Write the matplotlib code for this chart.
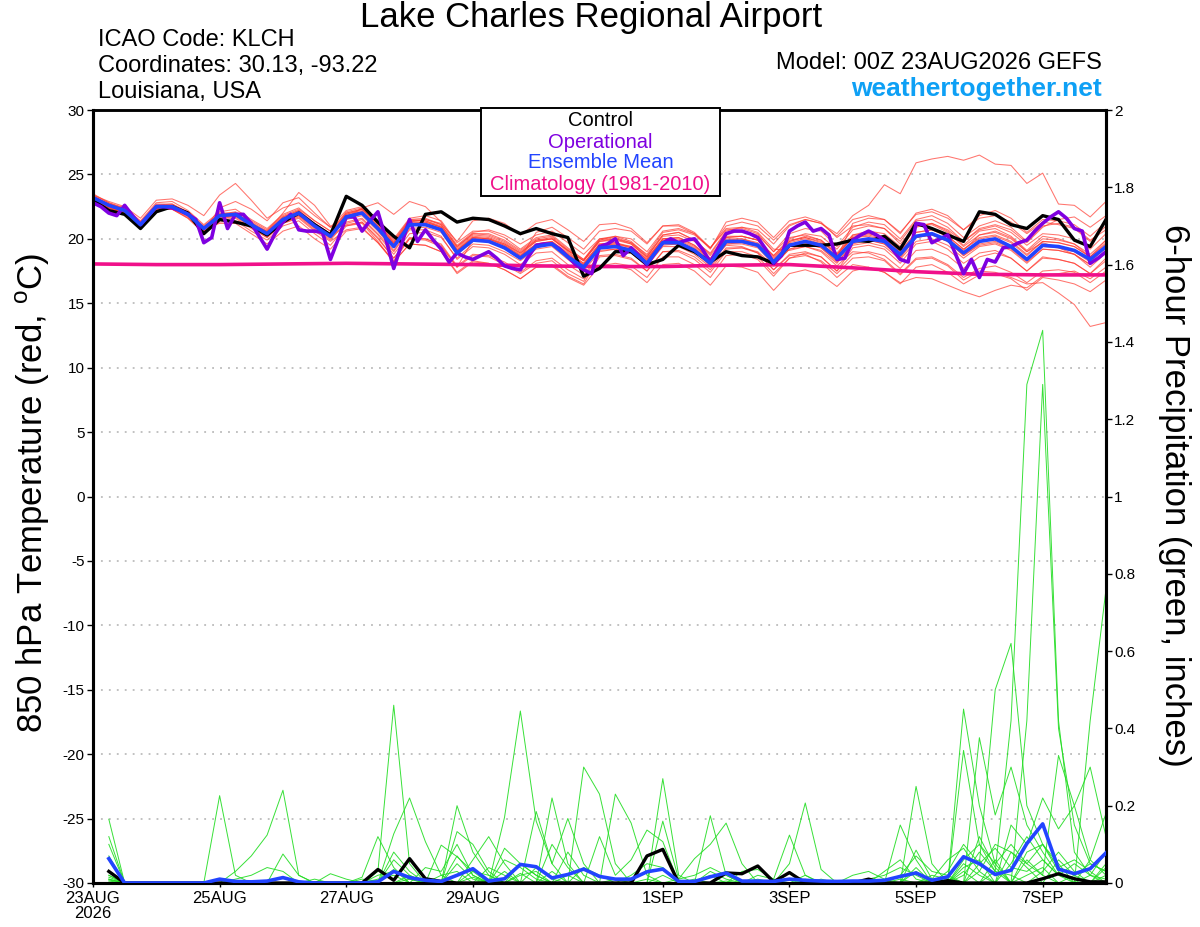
import numpy as np
import matplotlib
matplotlib.use("Agg")
import matplotlib.pyplot as plt
from matplotlib.patches import Rectangle

plt.rcParams['font.family'] = ['Liberation Sans', 'DejaVu Sans']

# ---------------- DATA ----------------
step_hours = 6
op_step_hours = 3

tick_hours = [0, 48, 96, 144, 216, 264, 312, 360]
tick_labels = ["23AUG\n2026", "25AUG", "27AUG", "29AUG", "1SEP", "3SEP", "5SEP", "7SEP"]

ens_mean_temp = [
    23.2, 22.6, 22.2, 21.1, 22.5, 22.5, 21.9, 20.8,
    21.8, 21.9, 21.1, 20.4, 21.5, 22.0, 21.0, 20.2,
    21.7, 22.0, 20.8, 19.4, 21.1, 21.1, 20.7, 18.9,
    19.9, 19.8, 19.3, 18.5, 19.4, 19.6, 18.6, 17.8,
    19.3, 19.4, 19.1, 18.1, 19.7, 19.7, 19.1, 18.1,
    19.8, 19.8, 19.5, 18.2, 19.5, 19.8, 19.5, 18.5,
    19.8, 20.0, 19.8, 18.8, 20.2, 20.4, 19.9, 18.9,
    19.8, 20.0, 19.4, 18.4, 19.5, 19.4, 19.1, 18.4,
    19.4]

control_temp = [
    23.0, 22.2, 21.9, 20.8, 22.1, 22.5, 22.0, 20.4,
    21.5, 21.3, 21.0, 20.3, 21.3, 22.0, 21.1, 20.3,
    23.3, 22.6, 21.3, 20.2, 19.3, 21.9, 22.1, 21.3,
    21.6, 21.5, 21.0, 20.4, 20.8, 20.4, 20.1, 17.1,
    17.7, 19.0, 19.0, 18.0, 18.4, 19.5, 19.0, 18.2,
    19.0, 18.7, 18.6, 18.1, 19.5, 19.5, 19.5, 19.6,
    19.9, 19.8, 20.2, 19.2, 21.2, 20.8, 20.3, 19.8,
    22.1, 21.9, 21.1, 20.8, 21.8, 21.5, 19.9, 19.4,
    21.5]

operational_temp = [
    22.8, 22.5, 22.0, 21.8, 22.6, 21.8, 21.1, 21.8,
    22.5, 22.5, 22.4, 22.2, 21.9, 21.5, 19.7, 20.1,
    22.8, 20.8, 21.9, 21.9, 21.2, 20.2, 19.2, 20.4,
    21.3, 21.9, 20.7, 20.6, 20.6, 20.5, 18.4, 20.0,
    21.7, 21.7, 20.6, 21.4, 22.1, 20.0, 17.7, 19.6,
    21.5, 19.8, 20.7, 19.9, 19.2, 18.2, 18.9, 18.6,
    18.4, 18.7, 19.0, 18.5, 17.9, 17.7, 17.6, 18.6,
    19.5, 19.6, 19.6, 19.2, 18.6, 18.0, 17.6, 17.3,
    19.4, 19.6, 20.0, 18.7, 19.3, 18.7, 18.0, 18.9,
    19.7, 20.0, 19.7, 19.9, 20.0, 19.2, 18.2, 19.3,
    20.4, 20.6, 20.6, 20.4, 20.1, 19.2, 18.1, 18.7,
    20.6, 21.0, 21.3, 20.6, 20.8, 20.3, 18.4, 18.5,
    19.9, 20.3, 20.6, 20.3, 19.9, 19.2, 18.4, 18.2,
    21.2, 21.1, 19.7, 20.0, 20.3, 18.8, 17.3, 18.4,
    17.0, 18.4, 18.2, 19.3, 19.4, 19.7, 19.9, 20.6,
    21.2, 21.7, 22.1, 21.6, 20.8, 20.6, 18.1, 18.5,
    19.0]

climatology_days = [0, 24, 48, 72, 96, 120, 144, 168, 192, 216, 240, 264, 288, 312, 336, 360, 384]
climatology_temp = [18.05, 18.0, 18.0, 18.05, 18.1, 18.05, 18.0, 17.9, 17.85,
                    17.85, 17.95, 18.0, 17.75, 17.45, 17.25, 17.2, 17.2]

member_temps = [
    [23.5,22.8,22.4,21.4,22.8,22.9,22.2,21.1,22.1,22.3,21.5,20.8,21.9,22.4,21.4,20.6,
     22.0,22.3,21.2,19.8,21.5,21.6,21.1,19.4,20.4,20.3,19.8,19.0,19.9,20.1,19.1,18.3,
     19.8,19.9,19.6,18.6,20.2,20.3,19.8,18.9,20.6,20.9,20.7,19.6,21.0,21.5,21.2,20.4,
     21.8,22.6,24.2,23.5,25.9,26.2,26.4,26.1,26.5,25.8,25.7,24.3,25.1,22.7,22.6,21.7,22.9],
    [23.0,22.4,21.9,20.9,22.3,22.3,21.6,20.5,21.5,21.6,20.8,20.1,21.2,21.7,20.7,19.9,
     21.3,21.6,20.4,19.0,20.7,20.7,20.2,18.4,19.4,19.3,18.8,18.0,18.9,19.0,18.0,17.2,
     18.7,18.8,18.5,17.5,19.0,19.0,18.4,17.4,19.0,19.0,18.6,17.3,18.5,18.7,18.3,17.3,
     18.5,18.6,18.3,17.2,18.4,18.5,17.9,16.8,17.5,17.4,17.0,16.5,16.6,15.8,14.9,13.2,13.5],
    [23.3,22.7,22.3,21.2,22.6,22.6,22.0,20.9,21.9,22.0,21.2,20.5,21.7,22.2,21.2,20.4,
     21.9,22.2,21.0,19.6,21.3,21.3,20.9,19.1,20.1,20.0,19.5,18.7,19.6,19.8,18.8,18.0,
     19.5,19.6,19.3,18.3,19.9,19.9,19.3,18.3,19.5,19.4,18.9,17.6,18.7,18.8,18.2,17.0,
     18.0,17.8,17.4,16.6,17.0,16.9,16.4,15.9,15.5,16.0,16.4,16.2,17.1,17.3,17.5,16.9,17.8],
    [23.4,22.9,22.5,21.6,23.0,23.1,22.6,21.8,23.4,24.3,23.0,21.6,22.4,22.8,21.8,20.9,
     22.2,22.5,21.4,20.0,21.6,21.8,21.4,19.7,20.6,20.6,20.1,19.2,20.1,20.3,19.3,18.4,
     20.0,20.2,19.8,18.7,20.3,20.5,19.9,18.8,20.5,20.6,20.3,19.0,20.4,20.8,20.6,19.4,
     20.9,21.3,21.1,20.0,21.5,21.8,21.2,20.1,21.0,21.4,20.9,19.8,21.0,21.2,20.9,19.9,20.7],
    [23.1,22.5,22.1,21.0,22.4,22.3,21.7,20.6,21.6,21.8,21.1,20.6,22.0,23.6,22.6,21.0,
     21.0,21.2,19.8,18.2,19.6,19.5,19.0,17.4,18.3,18.1,17.6,16.9,17.8,17.9,17.0,16.4,
     17.9,18.1,17.9,17.0,18.6,18.6,18.0,17.0,18.7,18.8,18.4,17.1,18.5,18.9,18.6,17.5,
     19.3,19.5,19.2,18.1,19.6,19.8,19.2,18.1,18.9,19.1,18.5,17.5,18.6,18.4,18.1,17.3,18.5],
    [22.9,22.4,22.0,21.0,22.3,22.4,21.8,20.7,21.7,21.8,21.0,20.3,21.3,21.8,20.8,20.0,
     21.6,22.4,22.8,21.9,22.9,22.5,21.3,19.5,20.5,20.7,20.3,19.6,20.3,20.6,19.7,18.8,
     20.0,20.1,19.7,18.6,20.3,20.5,19.9,18.7,20.2,20.2,19.9,18.6,19.8,20.1,19.7,18.6,
     20.2,20.4,20.2,19.2,20.9,21.2,20.6,19.5,20.6,20.8,20.2,19.1,20.2,20.0,19.6,18.6,19.9],
    [23.2,22.6,22.3,21.2,22.5,22.4,21.8,20.6,22.4,22.9,22.3,21.4,22.8,23.2,22.0,20.9,
     21.2,21.5,20.3,18.8,20.4,20.5,20.1,18.5,19.6,19.5,19.0,18.3,19.2,19.4,18.4,17.5,
     19.0,19.2,18.9,17.9,19.5,19.6,19.0,17.9,19.6,19.7,19.4,18.2,19.4,19.8,19.6,18.7,
     20.3,20.6,20.4,19.4,21.0,21.2,20.7,19.8,20.7,21.0,20.5,19.5,20.4,20.3,20.0,19.2,20.4],
    [23.0,22.4,22.0,20.9,22.3,22.3,21.6,20.4,21.3,21.4,20.6,19.9,21.0,21.4,20.4,19.5,
     21.0,21.3,20.1,18.5,20.0,20.0,19.6,17.9,18.8,18.7,18.2,17.4,18.3,18.5,17.6,16.9,
     17.8,17.9,17.6,16.6,18.0,18.1,17.5,16.4,17.9,17.8,17.4,16.0,17.3,17.6,17.2,16.3,
     17.5,17.8,17.4,16.5,17.8,18.0,17.4,16.5,17.2,17.3,16.9,16.0,17.0,16.8,16.5,15.9,16.8],
    [23.3,22.7,22.2,21.1,22.6,22.7,22.1,21.0,22.0,22.0,21.2,20.5,21.6,22.1,21.1,20.3,
     21.8,22.1,20.9,19.5,21.2,21.3,20.9,19.2,20.2,20.1,19.6,18.9,19.8,20.0,19.1,18.3,
     19.8,20.0,19.7,18.8,20.5,20.7,20.3,19.3,21.0,21.3,21.0,19.9,21.1,21.5,21.2,20.2,
     21.5,21.8,21.5,20.5,21.9,22.1,21.6,20.7,21.6,21.8,21.3,20.4,21.3,21.1,20.8,19.8,21.0],
    [23.1,22.5,22.1,21.1,22.4,22.5,21.9,20.8,21.8,21.9,21.2,20.5,21.6,22.1,21.1,20.3,
     21.8,22.1,21.0,19.6,21.3,21.5,21.2,19.8,21.4,21.6,21.2,20.3,21.2,21.5,20.7,19.8,
     21.1,21.2,20.8,19.7,21.0,21.0,20.4,19.3,20.7,20.8,20.4,19.0,20.1,20.3,19.9,18.8,
     20.1,20.2,19.9,18.8,20.1,20.3,19.8,18.7,19.5,19.7,19.2,18.2,19.2,19.1,18.8,18.0,19.1],
    [23.2,22.6,22.2,21.1,22.5,22.5,21.9,20.8,21.2,21.2,20.4,19.6,20.6,21.0,20.0,19.2,
     20.6,20.8,19.7,18.3,20.0,19.9,19.4,17.8,19.9,19.8,19.3,18.5,19.4,19.6,18.6,17.9,
     19.3,19.4,19.1,18.0,19.6,19.6,19.0,18.0,19.6,19.6,19.3,18.0,19.2,19.4,19.0,17.9,
     19.0,18.9,18.4,17.3,18.5,18.6,18.0,17.0,17.7,17.9,17.4,16.6,17.5,17.6,17.4,16.6,17.5],
    [23.4,22.8,22.3,21.3,22.7,22.7,22.0,20.9,21.9,22.1,21.4,20.7,21.8,22.3,21.4,20.6,
     22.1,22.4,21.3,19.9,21.5,21.4,20.9,19.1,20.0,19.9,19.4,18.6,19.5,19.7,18.8,18.0,
     19.5,19.6,19.4,18.4,20.0,20.1,19.5,18.5,20.1,20.2,19.9,18.7,20.0,20.4,20.2,19.2,
     20.7,21.0,20.8,19.8,21.4,21.5,20.9,19.8,20.8,21.1,20.7,19.7,20.9,21.5,21.7,20.9,21.8],
    [23.0,22.5,22.1,21.0,22.4,22.4,21.8,20.7,21.7,21.8,21.0,20.2,21.3,21.8,20.9,20.1,
     21.5,21.8,20.6,19.1,20.8,20.9,20.5,18.8,19.8,19.8,19.3,18.5,20.5,20.9,20.1,19.2,
     20.6,20.8,20.6,19.6,21.0,21.1,20.5,19.3,20.8,20.9,20.5,19.2,19.1,19.4,19.1,18.1,
     19.6,19.9,19.6,18.5,20.1,20.4,20.0,19.1,20.3,20.6,20.1,19.0,19.7,19.3,18.8,17.8,18.9],
    [23.3,22.7,22.4,21.3,22.6,22.6,22.0,20.8,21.8,21.9,21.1,20.4,21.5,22.0,21.0,20.2,
     21.9,22.3,21.2,19.7,21.4,21.4,21.0,19.3,20.3,20.2,19.7,18.9,19.9,20.0,19.0,18.1,
     19.6,19.7,19.3,18.2,19.7,19.7,19.2,18.2,19.8,19.9,19.6,18.4,19.7,20.0,19.6,18.5,
     21.2,21.6,21.5,20.4,22.0,22.3,21.8,20.7,21.8,22.2,21.6,20.5,21.5,21.4,21.1,20.2,21.3],
    [23.1,22.5,22.0,21.0,22.4,22.5,21.9,20.9,21.9,21.9,21.1,20.4,21.5,21.9,20.9,20.1,
     21.7,22.0,20.9,19.4,21.1,21.1,20.7,19.0,20.0,19.9,19.4,18.6,19.5,19.7,18.7,17.9,
     19.4,19.5,19.2,18.2,19.8,19.8,19.2,18.2,19.9,20.0,19.7,18.5,19.8,20.2,19.9,18.9,
     20.3,20.4,20.1,19.0,20.5,20.7,20.2,19.2,20.1,20.3,19.8,18.8,19.8,19.7,19.4,18.6,19.6],
    [23.2,22.6,22.1,21.0,22.4,22.4,21.8,20.7,21.6,21.7,20.9,20.1,21.2,21.6,20.6,19.8,
     20.7,20.9,19.7,18.2,19.6,19.5,19.0,17.3,18.2,18.1,17.6,16.9,17.8,18.0,17.1,16.5,
     18.6,18.7,18.4,17.5,19.0,19.1,18.6,17.6,19.2,19.3,19.0,17.9,19.2,19.6,19.3,18.3,
     19.7,19.9,19.6,18.6,20.1,20.3,19.8,18.7,19.6,19.8,19.3,18.3,19.4,19.3,19.0,18.2,19.3],
    [23.2,22.6,22.2,21.1,22.5,22.5,21.9,20.9,21.9,22.0,21.2,20.5,21.6,22.0,21.0,20.2,
     21.8,22.1,20.9,19.5,21.2,21.2,20.8,19.1,20.1,20.0,19.6,18.8,19.8,20.0,19.1,18.3,
     19.9,20.2,20.0,19.0,20.6,20.8,20.4,19.2,21.3,21.6,21.3,20.1,21.4,21.7,21.3,20.1,
     21.0,21.1,20.8,19.6,21.0,21.1,20.5,19.4,20.3,20.5,20.0,19.0,20.0,19.9,19.6,18.8,19.9],
    [23.0,22.4,22.0,20.9,22.3,22.4,21.8,20.8,21.7,21.8,21.1,20.4,21.4,21.9,20.9,20.1,
     21.1,21.3,20.0,18.5,20.1,20.0,19.5,17.8,18.7,18.6,18.0,17.3,18.1,18.3,17.3,16.7,
     19.1,19.2,18.9,17.9,19.4,19.4,18.8,17.8,19.3,19.3,18.9,17.6,18.8,19.0,18.6,17.5,
     18.8,19.0,18.7,17.7,19.1,19.2,18.7,17.7,18.6,18.9,18.5,17.5,18.5,18.4,18.1,17.3,18.3],
    [23.3,22.7,22.3,21.2,22.6,22.6,22.0,20.9,21.9,22.0,21.3,20.6,21.7,22.2,21.2,20.4,
     22.0,22.3,21.1,19.7,21.4,21.5,21.1,19.4,20.4,20.4,19.9,19.1,20.0,20.2,19.2,18.4,
     19.9,20.0,19.6,18.5,20.0,20.1,19.5,18.4,20.0,20.0,19.6,18.3,19.5,19.7,19.3,18.2,
     19.5,19.7,19.4,18.4,19.8,20.0,19.5,18.5,19.4,19.6,19.1,18.1,19.2,19.1,18.8,18.0,19.0],
    [23.1,22.6,22.2,21.1,22.5,22.6,22.0,20.9,21.8,21.9,21.1,20.4,21.5,22.0,21.0,20.2,
     21.7,22.0,20.8,19.4,21.1,21.2,20.8,19.1,20.1,20.0,19.5,18.7,19.6,19.8,18.9,18.1,
     19.6,19.7,19.4,18.4,20.0,20.0,19.4,18.4,20.1,20.2,19.9,18.7,19.9,20.1,19.8,18.8,
     20.1,20.3,20.0,19.0,20.5,20.7,20.2,19.2,20.0,20.2,19.7,18.7,19.8,19.7,19.4,18.6,19.7],
]

# 6-hour precipitation (inches), valid hours 6..384
ens_mean_precip = [
    0.063, 0.0, 0.0, 0.0, 0.0, 0.0, 0.0, 0.010,
    0.004, 0.003, 0.005, 0.014, 0.003, 0.0, 0.0, 0.0,
    0.0, 0.003, 0.030, 0.014, 0.007, 0.004, 0.020, 0.037,
    0.005, 0.011, 0.048, 0.042, 0.013, 0.022, 0.036, 0.017,
    0.010, 0.010, 0.029, 0.036, 0.004, 0.004, 0.016, 0.026,
    0.005, 0.005, 0.004, 0.010, 0.007, 0.005, 0.004, 0.005,
    0.005, 0.007, 0.017, 0.026, 0.007, 0.016, 0.068, 0.050,
    0.022, 0.033, 0.102, 0.153, 0.036, 0.024, 0.037, 0.078]

control_precip = [
    0.030, 0.0, 0.0, 0.0, 0.0, 0.0, 0.0, 0.0,
    0.0, 0.0, 0.0, 0.0, 0.0, 0.0, 0.0, 0.0,
    0.0, 0.035, 0.007, 0.063, 0.011, 0.004, 0.0, 0.0,
    0.0, 0.0, 0.0, 0.0, 0.0, 0.0, 0.0, 0.0,
    0.0, 0.0, 0.070, 0.087, 0.0, 0.0, 0.0, 0.026,
    0.024, 0.044, 0.003, 0.027, 0.0, 0.0, 0.0, 0.0,
    0.010, 0.0, 0.0, 0.0, 0.0, 0.006, 0.0, 0.0,
    0.0, 0.0, 0.0, 0.011, 0.024, 0.011, 0.003, 0.003]

# member precipitation: {valid hour: inches}, all other hours are 0
member_precip = [
    {6: 0.165, 48: 0.226, 54: 0.02, 138: 0.07, 144: 0.02, 330: 0.06, 336: 0.10, 342: 0.03,
     348: 0.42, 354: 1.29, 360: 1.43, 366: 0.42, 372: 0.08, 378: 0.02},
    {6: 0.12, 54: 0.03, 60: 0.07, 66: 0.124, 72: 0.24, 78: 0.02, 108: 0.03, 114: 0.46, 120: 0.05,
     162: 0.05, 168: 0.02, 330: 0.45, 336: 0.20, 342: 0.05, 354: 0.42, 360: 1.29, 366: 0.40,
     372: 0.15, 378: 0.05, 384: 0.03},
    {6: 0.10, 72: 0.075, 78: 0.02, 114: 0.127, 120: 0.22, 126: 0.107, 132: 0.02, 156: 0.17,
     162: 0.445, 168: 0.16, 174: 0.05, 312: 0.085, 318: 0.01, 336: 0.376, 342: 0.176, 348: 0.30,
     354: 0.15, 360: 0.08, 366: 0.02, 378: 0.42, 384: 0.76},
    {6: 0.07, 90: 0.024, 96: 0.01, 138: 0.20, 144: 0.08, 150: 0.02, 174: 0.22, 180: 0.05,
     198: 0.23, 204: 0.155, 210: 0.02, 264: 0.05, 270: 0.207, 276: 0.035, 312: 0.25, 318: 0.05,
     330: 0.343, 336: 0.10, 342: 0.05, 348: 0.10, 354: 0.05, 360: 0.02, 366: 0.33, 372: 0.20,
     378: 0.30, 384: 0.12},
    {6: 0.06, 102: 0.015, 108: 0.12, 114: 0.04, 138: 0.133, 144: 0.10, 150: 0.03, 186: 0.30,
     192: 0.23, 198: 0.05, 216: 0.27, 222: 0.02, 234: 0.174, 240: 0.02, 306: 0.15, 312: 0.06,
     324: 0.03, 330: 0.10, 336: 0.05, 342: 0.50, 348: 0.62, 354: 0.20, 360: 0.10, 366: 0.05,
     384: 0.05},
    {6: 0.03, 114: 0.08, 120: 0.03, 132: 0.098, 138: 0.068, 144: 0.03, 168: 0.185, 174: 0.05,
     180: 0.167, 186: 0.05, 216: 0.16, 222: 0.01, 228: 0.063, 234: 0.10, 240: 0.155, 246: 0.05,
     300: 0.03, 306: 0.06, 312: 0.01, 348: 0.15, 354: 0.10, 360: 0.22, 366: 0.14, 372: 0.20,
     378: 0.06, 384: 0.18},
    {6: 0.02, 156: 0.09, 162: 0.05, 168: 0.02, 192: 0.12, 198: 0.02, 204: 0.06, 210: 0.137,
     216: 0.107, 252: 0.02, 258: 0.01, 264: 0.124, 270: 0.02, 318: 0.01, 324: 0.06, 330: 0.09,
     336: 0.03, 342: 0.10, 348: 0.08, 354: 0.05, 360: 0.10, 366: 0.03, 378: 0.06, 384: 0.02},
    {6: 0.01, 54: 0.01, 60: 0.02, 66: 0.04, 72: 0.03, 84: 0.01, 108: 0.02, 114: 0.03, 120: 0.01,
     144: 0.06, 150: 0.12, 156: 0.05, 180: 0.08, 186: 0.02, 234: 0.03, 240: 0.01, 270: 0.02,
     288: 0.02, 294: 0.03, 300: 0.01, 330: 0.05, 336: 0.02, 348: 0.05, 354: 0.12, 360: 0.06,
     366: 0.02, 372: 0.05, 378: 0.02, 384: 0.08},
    {6: 0.02, 48: 0.01, 102: 0.01, 108: 0.005, 114: 0.035, 126: 0.04, 132: 0.03, 138: 0.10,
     144: 0.02, 156: 0.06, 162: 0.04, 168: 0.01, 204: 0.02, 210: 0.05, 216: 0.04, 246: 0.03,
     252: 0.035, 258: 0.01, 306: 0.02, 312: 0.07, 318: 0.03, 324: 0.02, 336: 0.05, 342: 0.09,
     348: 0.04, 354: 0.03, 360: 0.06, 366: 0.02, 372: 0.01, 384: 0.04},
    {6: 0.015, 114: 0.06, 120: 0.02, 150: 0.04, 156: 0.02, 174: 0.10, 180: 0.04, 222: 0.01,
     228: 0.02, 234: 0.04, 240: 0.02, 294: 0.01, 300: 0.02, 306: 0.04, 312: 0.02, 330: 0.02,
     336: 0.08, 342: 0.03, 354: 0.08, 360: 0.10, 366: 0.04, 372: 0.06, 378: 0.03},
    {120: 0.01, 138: 0.05, 144: 0.01, 162: 0.02, 168: 0.03, 216: 0.02, 240: 0.03, 312: 0.03,
     330: 0.03, 342: 0.06, 354: 0.02, 360: 0.04, 384: 0.02},
    {6: 0.005, 144: 0.03, 150: 0.02, 186: 0.04, 192: 0.02, 234: 0.02, 264: 0.01, 318: 0.02,
     324: 0.01, 336: 0.12, 342: 0.04, 366: 0.06, 372: 0.02},
    {6: 0.01, 78: 0.005, 132: 0.02, 138: 0.03, 174: 0.03, 210: 0.01, 276: 0.01, 312: 0.04,
     348: 0.08, 354: 0.04, 378: 0.02, 384: 0.01},
    {108: 0.01, 114: 0.02, 156: 0.03, 198: 0.01, 240: 0.005, 306: 0.01, 330: 0.04, 336: 0.06,
     360: 0.03, 366: 0.08, 372: 0.03},
    {6: 0.008, 144: 0.015, 162: 0.025, 180: 0.02, 252: 0.01, 324: 0.015, 342: 0.03, 348: 0.02,
     372: 0.02, 378: 0.05, 384: 0.03},
    {120: 0.02, 150: 0.01, 168: 0.04, 174: 0.01, 228: 0.01, 270: 0.01, 336: 0.03, 354: 0.06,
     360: 0.02},
]

# ---------------- FIGURE ----------------
W, H = 1200, 927
fig = plt.figure(figsize=(W / 100, H / 100), dpi=100)
ax_l, ax_r, ax_t, ax_b = 93, 1106, 110, 883
ax = fig.add_axes([ax_l / W, 1 - ax_b / H, (ax_r - ax_l) / W, (ax_b - ax_t) / H])
ax2 = ax.twinx()

temp_hours = np.arange(len(ens_mean_temp)) * step_hours
op_hours = np.arange(len(operational_temp)) * op_step_hours
precip_hours = (np.arange(len(ens_mean_precip)) + 1) * step_hours

c_red = '#ff3a30'
c_green = '#22dd22'
c_black = '#000000'
c_purple = '#7f00e0'
c_blue = '#2244ff'
c_pink = '#f0108a'

# gridlines
for yv in range(-25, 30, 5):
    ax.axhline(yv, color='#b0b0b0', lw=1.1, ls=(0, (1.2, 4)), zorder=0)

for m in member_temps:
    ax.plot(temp_hours, m, color=c_red, lw=0.75, alpha=0.7, zorder=2)

for d in member_precip:
    vals = [d.get(int(h), 0.0) for h in precip_hours]
    ax2.plot(precip_hours, vals, color=c_green, lw=0.7, alpha=0.9, zorder=2)

ax.plot(climatology_days, climatology_temp, color=c_pink, lw=2.6, zorder=3)
ax.plot(temp_hours, control_temp, color=c_black, lw=2.4, zorder=4)
ax.plot(op_hours, operational_temp, color=c_purple, lw=2.6, zorder=5)
ax.plot(temp_hours, ens_mean_temp, color=c_blue, lw=2.6, zorder=6)

ax2.plot(precip_hours, control_precip, color=c_black, lw=2.4, zorder=4)
ax2.plot(precip_hours, ens_mean_precip, color=c_blue, lw=2.6, zorder=6)

ax.set_xlim(0, 384)
ax.set_ylim(-30, 30)
ax2.set_ylim(0, 2)

ax.set_yticks(range(-30, 31, 5))
ax.set_yticklabels([str(v) for v in range(-30, 31, 5)])
rt = [round(0.2 * i, 1) for i in range(11)]
ax2.set_yticks(rt)
ax2.set_yticklabels([('%g' % v) for v in rt])
ax.set_xticks(tick_hours)
ax.set_xticklabels(tick_labels)

for a in (ax, ax2):
    for s in a.spines.values():
        s.set_linewidth(2.2)
    a.spines['top'].set_linewidth(1.8)
ax.tick_params(axis='y', direction='out', length=4, width=1, labelsize=11, pad=2)
ax2.tick_params(axis='y', direction='out', length=4, width=1, labelsize=11, pad=2)
ax.tick_params(axis='x', direction='out', length=3, width=1, labelsize=12, pad=3)
for lbl in ax.get_xticklabels():
    lbl.set_linespacing(1.0)

# y labels
fig.text(33 / W, 1 - 493 / H, '850 hPa Temperature (red, $^{\\mathregular{o}}$C)', rotation=90,
         ha='center', va='center', fontsize=25)
fig.text(1174 / W, 1 - 495 / H, '6-hour Precipitation (green, inches)', rotation=270,
         ha='center', va='center', fontsize=25)

# header
fig.text(591 / W, 1 - 18 / H, 'Lake Charles Regional Airport', ha='center', va='center', fontsize=25)
fig.text(98 / W, 1 - 40 / H, 'ICAO Code: KLCH', ha='left', va='center', fontsize=17)
fig.text(98 / W, 1 - 66 / H, 'Coordinates: 30.13, -93.22', ha='left', va='center', fontsize=17)
fig.text(98 / W, 1 - 92 / H, 'Louisiana, USA', ha='left', va='center', fontsize=17)
fig.text(1102 / W, 1 - 63 / H, 'Model: 00Z 23AUG2026 GEFS', ha='right', va='center', fontsize=17)
fig.text(1102 / W, 1 - 89 / H, 'weathertogether.net', ha='right', va='center', fontsize=19,
         fontweight='bold', color='#0ea0f5')

# legend box
fig.patches.append(Rectangle((481 / W, 1 - 196 / H), (720 - 481) / W, (196 - 108) / H,
                             transform=fig.transFigure, facecolor='white', edgecolor='black',
                             lw=1.4, zorder=10))
leg = [('Control', c_black, 121), ('Operational', c_purple, 142),
       ('Ensemble Mean', c_blue, 163), ('Climatology (1981-2010)', c_pink, 185)]
for txt, col, yy in leg:
    fig.text(600.5 / W, 1 - yy / H, txt, ha='center', va='center', fontsize=14.5, color=col, zorder=11)

fig.savefig('out.png', dpi=100)
